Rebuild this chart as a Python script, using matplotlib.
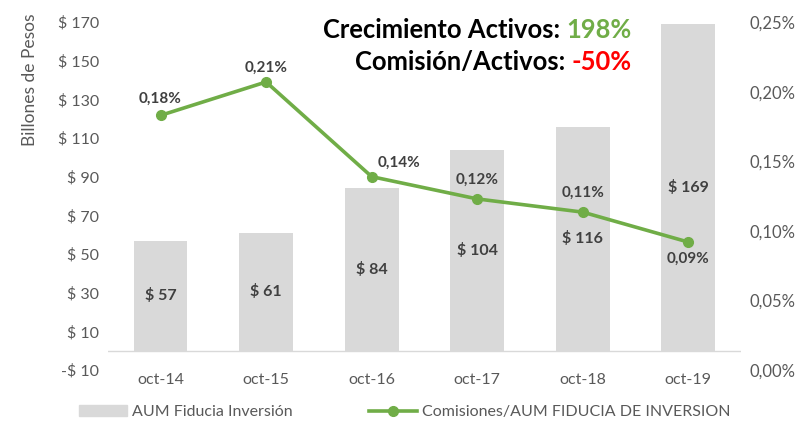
import matplotlib
matplotlib.use('Agg')
import matplotlib.pyplot as plt
import numpy as np
from matplotlib.patches import Patch
from matplotlib.lines import Line2D

plt.rcParams['font.family'] = ['Lato', 'DejaVu Sans']

years = ['oct-14', 'oct-15', 'oct-16', 'oct-17', 'oct-18', 'oct-19']
aum = [57, 61, 84, 104, 116, 169]
comision = [0.183, 0.207, 0.139, 0.123, 0.1135, 0.092]
comision_lbl = ['0,18%', '0,21%', '0,14%', '0,12%', '0,11%', '0,09%']

gray_bar = '#D9D9D9'
green = '#70AD47'
txt = '#595959'
dark = '#404040'

fig = plt.figure(figsize=(8.1, 4.25), dpi=100)
ax = fig.add_axes([0.133, 0.129, 0.782, 0.819])
x = np.arange(len(years))

ax.bar(x, aum, width=0.51, color=gray_bar, zorder=1)
ax.axhline(0, color='#D9D9D9', lw=1, zorder=0)
ax.set_ylim(-10, 170)
ax.set_xlim(-0.5, len(years) - 0.5)
ax.set_yticks(np.arange(-10, 171, 20))
ax.set_yticklabels([f'-$ {abs(v)}' if v < 0 else f'$ {v}' for v in range(-10, 171, 20)])
ax.set_xticks(x)
ax.set_xticklabels(years)
for s in ax.spines.values():
    s.set_visible(False)
ax.tick_params(length=0, labelsize=11.5, colors=txt, pad=6)
ax.tick_params(axis='x', pad=2)

for i, v in enumerate(aum):
    ax.text(i, v / 2, f'$ {v}', ha='center', va='center', fontsize=11.5,
            fontweight='bold', color=dark)

ax2 = ax.twinx()
ax2.set_ylim(0, 0.25)
ax2.set_yticks(np.arange(0, 0.251, 0.05))
ax2.set_yticklabels([f'{v:.2f}%'.replace('.', ',') for v in np.arange(0, 0.251, 0.05)])
for s in ax2.spines.values():
    s.set_visible(False)
ax2.tick_params(length=0, labelsize=12, colors=txt, pad=6)
ax2.plot(x, comision, color=green, lw=2.6, marker='o', ms=7, zorder=3)

offsets = [(0, 12), (0, 10), (20, 10), (0, 14), (0, 14), (0, -12)]
for i, (v, lbl) in enumerate(zip(comision, comision_lbl)):
    dx, dy = offsets[i]
    ax2.annotate(lbl, (i, v), xytext=(dx, dy), textcoords='offset points',
                 ha='center', va='center', fontsize=11, fontweight='bold', color=dark)

fig.text(30 / 810, 1 - 80 / 425, 'Billones de Pesos', rotation=90, ha='center',
         va='center', fontsize=12.5, color=txt)

# titulo en dos colores, alineado a la derecha en x=632
fig.canvas.draw()
r = fig.canvas.get_renderer()
lines = [('Crecimiento Activos: ', '198%', green, 30),
         ('Comisión/Activos: ', '-50%', '#FF0000', 62)]
for head, val, col, ypx in lines:
    tv = fig.text(632 / 810, 1 - ypx / 425, val, ha='left', va='center',
                  fontsize=18.4, fontweight='bold', color=col)
    w = tv.get_window_extent(r).width
    tv.set_x((632 - w) / 810)
    fig.text((632 - w) / 810, 1 - ypx / 425, head, ha='right', va='center',
             fontsize=18.4, fontweight='bold', color='black')

handles = [Patch(color=gray_bar, label='AUM Fiducia Inversión'),
           Line2D([0], [0], color=green, lw=2.6, marker='o', ms=7,
                  label='Comisiones/AUM FIDUCIA DE INVERSION')]
leg = fig.legend(handles=handles, loc='center', bbox_to_anchor=(0.5, 1 - 412 / 425),
                 ncol=2, frameon=False, fontsize=11.5, handlelength=3.0, columnspacing=4.8,
                 handletextpad=0.3)
for t in leg.get_texts():
    t.set_color(txt)

fig.savefig('out.png', dpi=100)
